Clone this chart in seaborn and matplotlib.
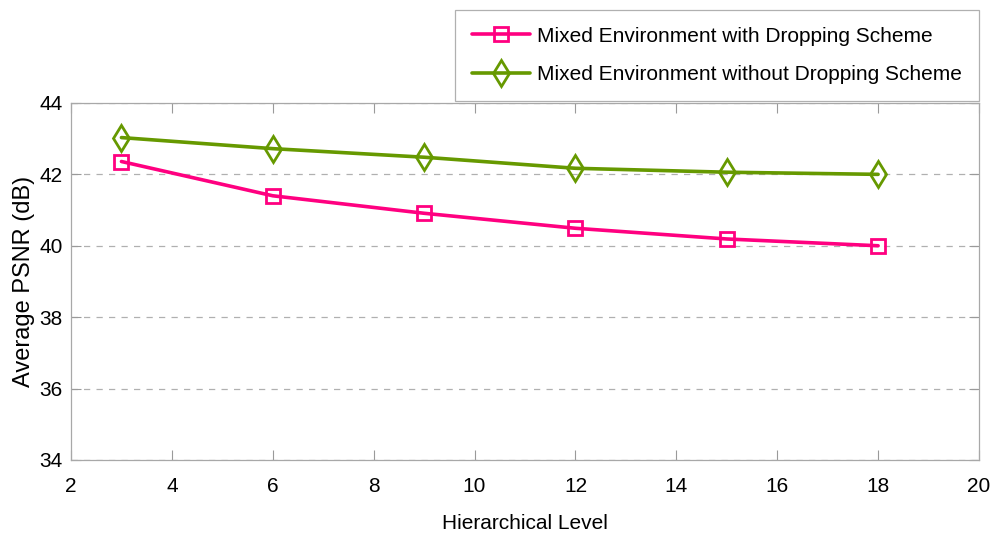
import numpy as np
import pandas as pd
import matplotlib
matplotlib.use('Agg')
import matplotlib.pyplot as plt
import seaborn as sns

# data
levels = [3, 6, 9, 12, 15, 18]
psnr_with_drop = [42.36, 41.40, 40.91, 40.49, 40.19, 40.00]
psnr_without_drop = [43.03, 42.72, 42.48, 42.17, 42.06, 42.00]
series_names = ['Mixed Environment with Dropping Scheme',
                'Mixed Environment without Dropping Scheme']
series_colors = ['#ff0080', '#669900']
x_ticks = [2, 4, 6, 8, 10, 12, 14, 16, 18, 20]
y_ticks = [34, 36, 38, 40, 42, 44]

df = pd.DataFrame({
    'level': levels * 2,
    'psnr': psnr_with_drop + psnr_without_drop,
    'scheme': [series_names[0]] * len(levels) + [series_names[1]] * len(levels),
})

sns.set_theme(style='white')
plt.rcParams['font.family'] = ['Liberation Sans', 'DejaVu Sans']
plt.rcParams['text.color'] = 'black'
plt.rcParams['axes.labelcolor'] = 'black'
plt.rcParams['xtick.color'] = 'black'
plt.rcParams['ytick.color'] = 'black'

fig = plt.figure(figsize=(10, 5.39), dpi=100)
ax = fig.add_axes([0.071, 0.1466, 0.908, 0.6624])

sns.lineplot(data=df, x='level', y='psnr', hue='scheme', style='scheme',
             palette=dict(zip(series_names, series_colors)),
             markers={series_names[0]: 's', series_names[1]: 'd'},
             dashes=False, linewidth=2.6, legend=False, ax=ax)

# marker sizes per series, hollow markers
msizes = [10, 13]
for line, col, ms in zip(ax.lines, series_colors, msizes):
    line.set_markerfacecolor('none')
    line.set_markeredgecolor(col)
    line.set_markeredgewidth(2.0)
    line.set_markersize(ms)

ax.set_xlim(2, 20)
ax.set_ylim(34, 44)
ax.set_xticks(x_ticks)
ax.set_yticks(y_ticks)
ax.tick_params(axis='x', labelsize=15, pad=12)
ax.tick_params(axis='y', labelsize=15, pad=6)
ax.tick_params(direction='in', length=7.5, width=0.8, color='#9a9a9a',
               top=True, right=True, bottom=True, left=True)

for s in ax.spines.values():
    s.set_color('#a8a8a8')
    s.set_linewidth(0.9)

ax.yaxis.grid(True, linestyle=(0, (5, 5)), color='#b0b0b0', linewidth=0.9)
ax.xaxis.grid(False)

ax.set_xlabel('Hierarchical Level', fontsize=15, labelpad=13)
ax.set_ylabel('Average PSNR (dB)', fontsize=17, labelpad=3)

leg = ax.legend(handles=ax.lines[:2], labels=series_names, loc='upper right',
                bbox_to_anchor=(0.979, 1 - 10 / 539), bbox_transform=fig.transFigure,
                fontsize=15, frameon=True, fancybox=False, framealpha=1,
                borderaxespad=0, handlelength=2.8, handletextpad=0.35,
                labelspacing=0.95, borderpad=0.8)
leg.get_frame().set_edgecolor('#b0b0b0')
leg.get_frame().set_linewidth(0.9)

fig.savefig('out.png', dpi=100, facecolor='white')
